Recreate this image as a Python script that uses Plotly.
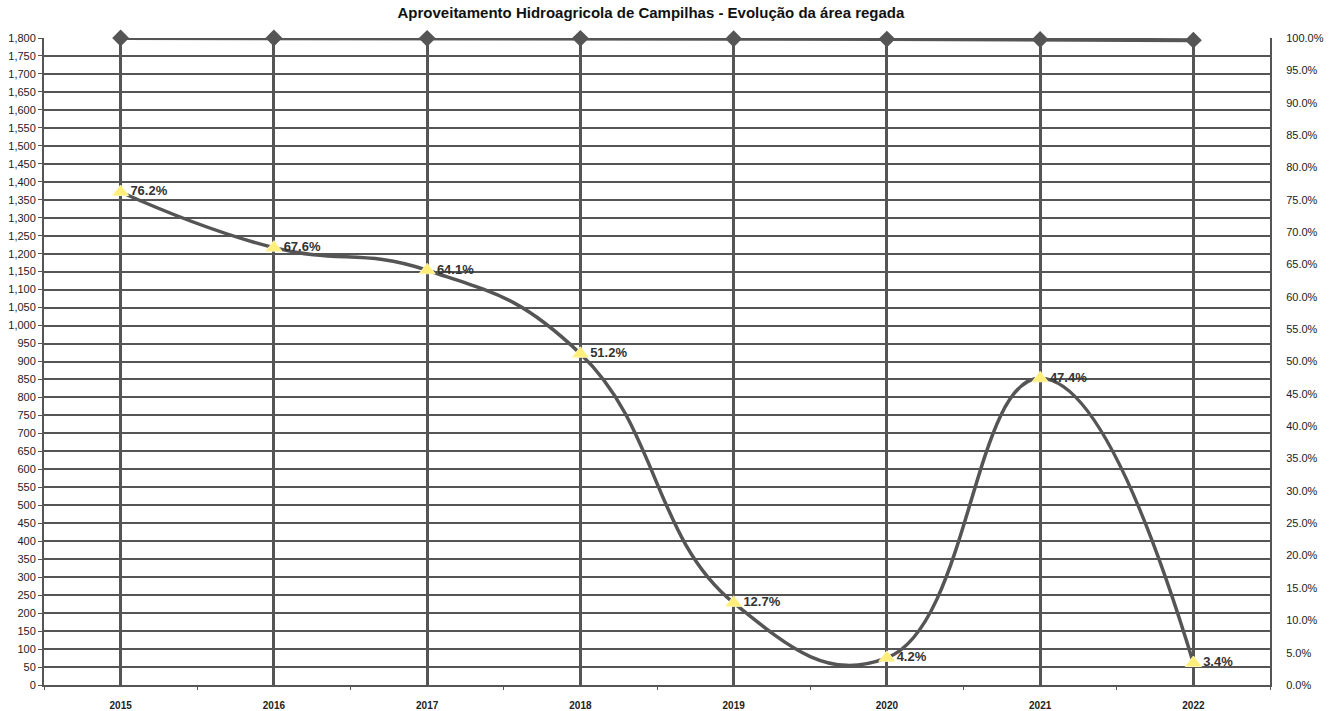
import plotly.graph_objects as go

years = ["2015", "2016", "2017", "2018", "2019", "2020", "2021", "2022"]
total_area = [1800, 1800, 1799, 1799, 1798, 1797, 1796, 1794]
pct_irrigated = [76.2, 67.6, 64.1, 51.2, 12.7, 4.2, 47.4, 3.4]
pct_labels = ["76.2%", "67.6%", "64.1%", "51.2%", "12.7%", "4.2%", "47.4%", "3.4%"]
left_ticks = list(range(0, 1801, 50))
right_ticks = [v / 100 for v in range(0, 101, 5)]

GRAY = "#555555"
FONT = "Liberation Sans, Arial, sans-serif"

fig = go.Figure()

fig.add_trace(go.Scatter(
    x=years, y=total_area, mode="lines+markers",
    line=dict(color=GRAY, width=4),
    marker=dict(symbol="diamond", size=13, color=GRAY),
    yaxis="y", showlegend=False, cliponaxis=False,
))

fig.add_trace(go.Scatter(
    x=years, y=[p / 100 for p in pct_irrigated], mode="lines+markers+text",
    line=dict(color=GRAY, width=3.5, shape="spline", smoothing=1.3),
    marker=dict(symbol="triangle-up", size=14, color="#FFEF7A",
                line=dict(color="#FFF6B0", width=1)),
    text=pct_labels, textposition="middle right",
    textfont=dict(family=FONT, size=13, color="#333333", weight="bold"),
    yaxis="y2", showlegend=False, cliponaxis=False,
))

fig.update_layout(
    width=1335, height=711,
    margin=dict(l=44, r=65, t=38, b=26),
    paper_bgcolor="white", plot_bgcolor="white",
    title=dict(text="<b>Aproveitamento Hidroagricola de Campilhas - Evolução da área regada</b>",
               x=0.4876, xanchor="center", y=0.99, yanchor="top",
               font=dict(family=FONT, size=15, color="#111111")),
    font=dict(family=FONT, size=11, color="#222222"),
    xaxis=dict(
        type="category", categoryorder="array", categoryarray=years,
        range=[-0.5, 7.5], showgrid=True, gridcolor=GRAY, gridwidth=2.5,
        showline=True, linecolor=GRAY, linewidth=2, ticks="",
        tickfont=dict(family=FONT, size=10, color="#222222", weight="bold"),
        ticklabelstandoff=10, zeroline=False, automargin=False,
    ),
    xaxis2=dict(
        type="category", categoryorder="array", categoryarray=years,
        range=[-0.5, 7.5], overlaying="x", anchor="y", side="bottom",
        tickson="boundaries", ticks="outside", ticklen=4, tickcolor=GRAY,
        showticklabels=False, showgrid=False, showline=False, automargin=False,
    ),
    yaxis=dict(
        range=[0, 1800], tickvals=left_ticks,
        ticktext=[f"{v:,}" for v in left_ticks],
        showgrid=True, gridcolor=GRAY, gridwidth=2,
        showline=True, linecolor=GRAY, linewidth=2,
        ticks="outside", ticklen=4, tickcolor=GRAY, automargin=False,
        zeroline=False, tickfont=dict(family=FONT, size=11, color="#222222"),
    ),
    yaxis2=dict(
        range=[0, 1], tickvals=right_ticks,
        ticktext=[f"{v*100:.1f}%" for v in right_ticks],
        overlaying="y", side="right", showgrid=False,
        showline=True, linecolor=GRAY, linewidth=2,
        ticks="", ticklabelstandoff=12, automargin=False,
        zeroline=False, tickfont=dict(family=FONT, size=11, color="#222222"),
    ),
)

fig.add_trace(go.Scatter(x=years, y=[None] * len(years), xaxis="x2", yaxis="y",
                         showlegend=False, hoverinfo="skip"))

fig.write_html("out.html")
